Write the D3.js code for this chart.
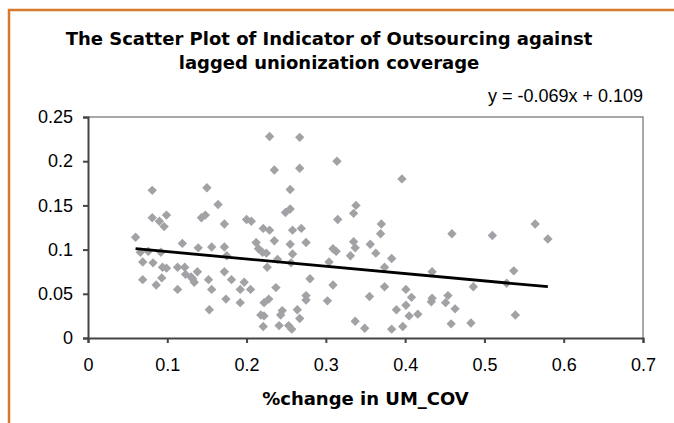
<!DOCTYPE html>
<html>
<head>
<meta charset="utf-8">
<script src="https://cdn.jsdelivr.net/npm/d3@7"></script>
<style>
    body { margin: 0; background: #fff; }
    svg { display: block; }
</style>
</head>
<body>
<svg id="chart" width="674" height="423"></svg>
<script>
// values
var xVals = [0.060, 0.081, 0.081, 0.099, 0.090, 0.096, 0.066, 0.076, 0.069, 0.082, 0.092, 0.094, 0.099, 0.069, 0.086, 0.093,
    0.119, 0.113, 0.122, 0.123, 0.113, 0.132, 0.134, 0.138, 0.139, 0.156, 0.172, 0.152, 0.156, 0.172, 0.174, 0.153,
    0.181, 0.192, 0.197, 0.205, 0.226, 0.222, 0.228, 0.218, 0.222, 0.221, 0.237, 0.243, 0.245,
    0.150, 0.164, 0.143, 0.148, 0.172, 0.200, 0.206, 0.175, 0.130, 0.192,
    0.229, 0.267, 0.235, 0.267, 0.314, 0.255, 0.249, 0.255, 0.221, 0.229, 0.258, 0.269, 0.235, 0.212, 0.255, 0.275,
    0.215, 0.220, 0.225, 0.239, 0.258, 0.256, 0.309, 0.304, 0.280, 0.275, 0.309, 0.264, 0.267, 0.241, 0.253, 0.257,
    0.302, 0.275, 0.313,
    0.396, 0.338, 0.335, 0.315, 0.370, 0.369, 0.335, 0.337, 0.331, 0.356, 0.363, 0.383, 0.374, 0.434, 0.374, 0.355,
    0.401, 0.408, 0.401, 0.389, 0.416, 0.405, 0.434, 0.433, 0.337, 0.349, 0.383, 0.397,
    0.459, 0.510, 0.564, 0.580, 0.537, 0.528, 0.486, 0.539, 0.483, 0.451, 0.454, 0.463, 0.458];
var yVals = [0.114, 0.167, 0.136, 0.139, 0.132, 0.126, 0.097, 0.098, 0.086, 0.085, 0.097, 0.080, 0.079, 0.066, 0.060, 0.068,
    0.107, 0.080, 0.080, 0.072, 0.055, 0.067, 0.063, 0.075, 0.102, 0.103, 0.103, 0.066, 0.055, 0.075, 0.044, 0.032,
    0.066, 0.040, 0.063, 0.055, 0.080, 0.040, 0.044, 0.026, 0.025, 0.013, 0.057, 0.026, 0.031,
    0.170, 0.151, 0.136, 0.139, 0.129, 0.134, 0.132, 0.093, 0.069, 0.055,
    0.228, 0.227, 0.190, 0.192, 0.200, 0.168, 0.142, 0.146, 0.124, 0.122, 0.122, 0.124, 0.110, 0.108, 0.106, 0.108,
    0.101, 0.097, 0.096, 0.089, 0.095, 0.085, 0.101, 0.086, 0.067, 0.048, 0.060, 0.032, 0.022, 0.014, 0.014, 0.010,
    0.042, 0.043, 0.098,
    0.180, 0.150, 0.141, 0.134, 0.129, 0.118, 0.109, 0.102, 0.093, 0.106, 0.096, 0.090, 0.080, 0.075, 0.058, 0.047,
    0.055, 0.046, 0.037, 0.032, 0.027, 0.025, 0.045, 0.041, 0.019, 0.011, 0.010, 0.013,
    0.118, 0.116, 0.129, 0.112, 0.076, 0.062, 0.058, 0.026, 0.017, 0.040, 0.048, 0.033, 0.016];

// linear trend line as drawn (end points)
var trendX = [0.06, 0.58];
var trendY = [0.101, 0.058];

var xTicks = [0, 0.1, 0.2, 0.3, 0.4, 0.5, 0.6, 0.7];
var yTicks = [0, 0.05, 0.1, 0.15, 0.2, 0.25];
var titleLines = ["The Scatter Plot of Indicator of Outsourcing against", "lagged unionization coverage"];
var xTitle = "%change in UM_COV";
var equation = "y = -0.069x + 0.109";

var svg = d3.select("#chart"),
    margin = {left: 88, right: 31, top: 117, bottom: 85},
    width = +svg.attr("width") - margin.left - margin.right,
    height = +svg.attr("height") - margin.top - margin.bottom;

var x = d3.scaleLinear().domain([0, 0.7]).range([margin.left, margin.left + width]);
var y = d3.scaleLinear().domain([0, 0.25]).range([margin.top + height, margin.top]);

var labelFont = "'Liberation Sans', Arial, sans-serif";
var boldFont = "'DejaVu Sans', Verdana, sans-serif";

// orange chart-area frame (runs off the bottom / right edge)
svg.append("rect")
    .attr("x", 9).attr("y", 10)
    .attr("width", 720).attr("height", 500)
    .style("fill", "none")
    .style("stroke", "#D57A2C")
    .style("stroke-width", 2.5);

// plot area border, top and right in grey
svg.append("path")
    .attr("d", "M" + x(0) + "," + y(0.25) + "H" + x(0.7) + "V" + y(0))
    .style("fill", "none")
    .style("stroke", "#8c8c8c")
    .style("stroke-width", 1.5);

// axes
var xAxis = svg.append("g")
    .attr("transform", "translate(0," + y(0) + ")")
    .call(d3.axisBottom(x).tickValues(xTicks).tickSize(5).tickPadding(15).tickFormat(d3.format("")));
var yAxis = svg.append("g")
    .attr("transform", "translate(" + x(0) + ",0)")
    .call(d3.axisLeft(y).tickValues(yTicks).tickSize(5).tickPadding(10).tickFormat(d3.format("")));

[xAxis, yAxis].forEach(function (g) {
    g.select(".domain").style("stroke", "#444").style("stroke-width", 2);
    g.selectAll(".tick line").style("stroke", "#444").style("stroke-width", 2);
    g.selectAll(".tick text")
        .style("font-family", labelFont)
        .style("font-size", "18px")
        .style("fill", "#000");
});

// scatter points, excel style diamonds
var diamond = d3.symbol().type(d3.symbolSquare).size(44);
svg.append("g").selectAll("path")
    .data(d3.range(xVals.length))
    .enter().append("path")
    .attr("d", diamond)
    .attr("transform", function (i) {
        return "translate(" + x(xVals[i]) + "," + y(yVals[i]) + ") rotate(45)";
    })
    .style("fill", "#a2a2a6");

// trend line
var line = d3.line().x(function (i) { return x(trendX[i]); }).y(function (i) { return y(trendY[i]); });
svg.append("path")
    .attr("d", line(d3.range(trendX.length)))
    .style("fill", "none")
    .style("stroke", "#000")
    .style("stroke-width", 2.8);

// titles
svg.selectAll(".title")
    .data(titleLines)
    .enter().append("text")
    .attr("class", "title")
    .attr("x", 329)
    .attr("y", function (d, i) { return 45 + i * 24; })
    .attr("text-anchor", "middle")
    .style("font-family", boldFont)
    .style("font-weight", "bold")
    .style("font-size", "18px")
    .text(function (d) { return d; });

svg.append("text")
    .attr("x", x(0.7))
    .attr("y", 102)
    .attr("text-anchor", "end")
    .style("font-family", labelFont)
    .style("font-size", "18px")
    .text(equation);

svg.append("text")
    .attr("x", (x(0) + x(0.7)) / 2)
    .attr("y", 405)
    .attr("text-anchor", "middle")
    .style("font-family", boldFont)
    .style("font-weight", "bold")
    .style("font-size", "18px")
    .text(xTitle);
</script>
</body>
</html>
